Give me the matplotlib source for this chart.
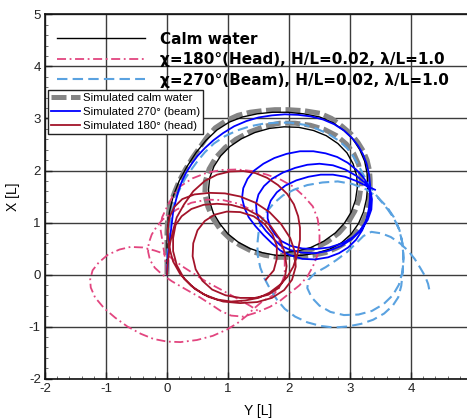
import matplotlib
matplotlib.use("Agg")
import matplotlib.pyplot as plt
from matplotlib.lines import Line2D
from matplotlib.ticker import MultipleLocator

# ---------------- data: trajectories as (Y [L], X [L]) ----------------
calm_y = [0, 0, 0, 0.01, 0.04, 0.1, 0.2, 0.33, 0.48, 0.64, 0.82, 1.02, 1.24, 1.48, 1.73, 1.98,
          2.24, 2.5, 2.72, 2.9, 3.05, 3.16, 3.24, 3.28, 3.29, 3.27, 3.22, 3.14, 3.02, 2.86, 2.67,
          2.45, 2.22, 2.0, 1.78, 1.56, 1.36, 1.17, 1.0, 0.87, 0.76, 0.7, 0.68, 0.7, 0.77, 0.88,
          1.03, 1.22, 1.44, 1.68, 1.92, 2.16, 2.4, 2.61, 2.8, 2.95, 3.05, 3.11, 3.12, 3.09, 3.02,
          2.91, 2.76, 2.57, 2.36, 2.13, 1.9]
calm_x = [0, 0.3, 0.6, 0.9, 1.2, 1.5, 1.8, 2.08, 2.35, 2.58, 2.78, 2.93, 3.03, 3.09, 3.12, 3.12,
          3.09, 3.03, 2.92, 2.77, 2.6, 2.4, 2.18, 1.95, 1.7, 1.45, 1.2, 0.98, 0.78, 0.61, 0.49,
          0.41, 0.37, 0.36, 0.37, 0.42, 0.5, 0.62, 0.78, 0.97, 1.18, 1.4, 1.63, 1.86, 2.08, 2.28,
          2.46, 2.61, 2.73, 2.81, 2.84, 2.83, 2.77, 2.67, 2.52, 2.34, 2.13, 1.9, 1.67, 1.43, 1.2,
          0.99, 0.8, 0.64, 0.52, 0.45, 0.42]

sim_calm_y = [0, 0, 0, 0, 0.01, 0.05, 0.13, 0.2, 0.3, 0.42, 0.54, 0.66, 0.79, 0.97, 1.16, 1.36,
              1.56, 1.77, 1.98, 2.25, 2.51, 2.7, 2.87, 3.02, 3.13, 3.22, 3.28, 3.32, 3.33, 3.33,
              3.31, 3.27, 3.2, 3.1, 2.97, 2.8, 2.6, 2.4, 2.2, 2.0, 1.82, 1.6, 1.4, 1.2, 1.02, 0.87,
              0.75, 0.67, 0.62, 0.63, 0.69, 0.8, 0.95, 1.13, 1.35, 1.6, 1.85, 2.1, 2.35, 2.58,
              2.78, 2.94, 3.06, 3.14, 3.18, 3.18, 3.15, 3.08, 2.97, 2.82, 2.63, 2.42, 2.2, 1.98,
              1.8]
sim_calm_x = [0, 0.25, 0.5, 0.8, 1.06, 1.35, 1.6, 1.8, 2.02, 2.25, 2.45, 2.65, 2.82, 2.96, 3.06,
              3.12, 3.15, 3.17, 3.17, 3.15, 3.1, 3.0, 2.85, 2.7, 2.54, 2.37, 2.2, 2.0, 1.83, 1.6,
              1.38, 1.17, 0.98, 0.8, 0.64, 0.52, 0.42, 0.37, 0.34, 0.33, 0.33, 0.37, 0.44, 0.56,
              0.7, 0.87, 1.08, 1.3, 1.55, 1.8, 2.03, 2.25, 2.44, 2.6, 2.74, 2.85, 2.91, 2.91, 2.87,
              2.79, 2.67, 2.51, 2.33, 2.12, 1.9, 1.68, 1.45, 1.22, 1.0, 0.8, 0.63, 0.5, 0.42, 0.38,
              0.37]

head_y = [0, -0.02, -0.05, -0.08, -0.11, -0.08, 0.0, 0.09, 0.21, 0.42, 0.66, 0.9, 1.15, 1.4,
          1.64, 1.87, 2.07, 2.24, 2.39, 2.47, 2.5, 2.5, 2.46, 2.39, 2.3, 2.17, 2.02, 1.86, 1.69,
          1.47, 1.25, 1.05, 0.88, 0.7, 0.54, 0.3, 0.08, -0.08, -0.2, -0.28, -0.31, -0.3, -0.25,
          -0.17, -0.07, 0.16, 0.4, 0.66, 0.92, 1.18, 1.42, 1.62, 1.77, 1.88, 1.93, 1.93, 1.86,
          1.74, 1.56, 1.42, 1.3, 1.15, 0.98, 0.75, 0.49, 0.22, 0.0, -0.22, -0.43, -0.65, -0.85,
          -1.03, -1.18, -1.25, -1.26, -1.22, -1.12, -0.97, -0.78, -0.6, -0.4, -0.2, 0.0, 0.26,
          0.46, 0.66, 0.9, 1.13, 1.36, 1.52]
head_x = [0, 0.22, 0.45, 0.68, 0.9, 1.1, 1.3, 1.5, 1.69, 1.85, 1.96, 2.01, 2.02, 1.99, 1.92,
          1.82, 1.69, 1.51, 1.31, 1.07, 0.81, 0.58, 0.35, 0.15, -0.04, -0.21, -0.35, -0.5, -0.62,
          -0.73, -0.81, -0.79, -0.7, -0.56, -0.44, -0.28, -0.13, 0.0, 0.13, 0.28, 0.44, 0.6, 0.77,
          0.92, 1.06, 1.25, 1.38, 1.44, 1.43, 1.36, 1.22, 1.03, 0.8, 0.54, 0.27, 0.0, -0.22,
          -0.4, -0.52, -0.66, -0.8, -0.94, -1.06, -1.18, -1.26, -1.3, -1.29, -1.24, -1.14, -1.0,
          -0.83, -0.65, -0.44, -0.25, -0.1, 0.08, 0.23, 0.38, 0.48, 0.53, 0.52, 0.46, 0.38, 0.15,
          0.0, -0.15, -0.3, -0.45, -0.6, -0.72]

beam_y = [0, 0, 0.01, 0.03, 0.05, 0.08, 0.13, 0.2, 0.3, 0.4, 0.5, 0.62, 0.77, 0.95, 1.15, 1.36,
          1.58, 1.8, 2.02, 2.25, 2.46, 2.65, 2.82, 2.95, 3.05, 3.13, 3.2, 3.28, 3.38, 3.5, 3.62,
          3.72, 3.8, 3.85, 3.87, 3.87, 3.86, 3.84, 3.79, 3.7, 3.56, 3.38, 3.18, 2.96, 2.74, 2.52,
          2.3, 2.1, 1.93, 1.8, 1.69, 1.6, 1.53, 1.49, 1.48, 1.5, 1.55, 1.63, 1.75, 1.9, 2.08, 2.3,
          2.55, 2.8, 3.04, 3.26, 3.45, 3.6, 3.72, 3.81, 3.86, 3.88, 3.86, 3.8, 3.7, 3.55, 3.36,
          3.14, 2.9, 2.68, 2.5, 2.37, 2.3, 2.32, 2.43, 2.6, 2.78, 2.95, 3.1, 3.22, 3.35, 3.52,
          3.67, 3.82, 3.95, 4.06, 4.15, 4.23, 4.28, 4.31]
beam_x = [0, 0.25, 0.5, 0.75, 1.0, 1.2, 1.42, 1.62, 1.85, 2.02, 2.18, 2.35, 2.52, 2.66, 2.77,
          2.85, 2.9, 2.92, 2.92, 2.88, 2.8, 2.7, 2.57, 2.43, 2.28, 2.12, 1.96, 1.8, 1.6, 1.42, 1.25,
          1.08, 0.88, 0.66, 0.44, 0.2, 0.0, -0.22, -0.44, -0.6, -0.75, -0.87, -0.95, -1.0, -1.02,
          -0.99, -0.92, -0.81, -0.66, -0.48, -0.28, -0.08, 0.13, 0.35, 0.57, 0.8, 1.02, 1.2, 1.37,
          1.52, 1.63, 1.72, 1.77, 1.79, 1.74, 1.64, 1.49, 1.31, 1.1, 0.86, 0.6, 0.32, 0.05, -0.2,
          -0.4, -0.57, -0.7, -0.77, -0.78, -0.72, -0.6, -0.44, -0.26, -0.1, 0.03, 0.14, 0.28, 0.43,
          0.6, 0.74, 0.82, 0.79, 0.72, 0.6, 0.46, 0.3, 0.13, -0.03, -0.18, -0.35]

sim_beam_y = [0, 0.01, 0.02, 0.04, 0.06, 0.08, 0.1, 0.14, 0.18, 0.24, 0.31, 0.4, 0.5, 0.62, 0.76,
              0.92, 1.1, 1.3, 1.5, 1.72, 1.93, 2.15, 2.36, 2.56, 2.74, 2.9, 3.03, 3.13, 3.21, 3.27,
              3.31, 3.33, 3.33, 3.31, 3.27, 3.2, 3.1, 2.97, 2.82, 2.64, 2.43, 2.22, 2.02, 1.86, 1.72,
              1.58, 1.45, 1.34, 1.27, 1.23, 1.25, 1.32, 1.43, 1.58, 1.76, 1.96, 2.18, 2.4, 2.6, 2.79,
              2.96, 3.1, 3.21, 3.29, 3.33, 3.34, 3.32, 3.26, 3.16, 3.03, 2.86, 2.66, 2.44, 2.22, 2.02,
              1.86, 1.75,
              1.62, 1.52, 1.47, 1.46, 1.5, 1.59, 1.72, 1.9, 2.1, 2.3, 2.5, 2.72, 2.92, 3.1, 3.24,
              3.33, 3.36, 3.35, 3.29, 3.19, 3.05, 2.87, 2.66, 2.44, 2.22, 2.03, 1.88, 1.77,
              1.69, 1.65, 1.65, 1.7, 1.8, 1.94, 2.12, 2.32, 2.52, 2.72, 2.92, 3.1, 3.26, 3.41]
sim_beam_x = [0, 0.2, 0.4, 0.6, 0.8, 1.0, 1.2, 1.4, 1.58, 1.78, 1.95, 2.12, 2.28, 2.43, 2.58,
              2.72, 2.85, 2.95, 3.02, 3.06, 3.08, 3.07, 3.04, 2.98, 2.89, 2.77, 2.63, 2.48, 2.32,
              2.14, 1.94, 1.72, 1.5, 1.27, 1.05, 0.85, 0.67, 0.52, 0.41, 0.33, 0.29, 0.3, 0.37, 0.46,
              0.6, 0.76, 0.93, 1.1, 1.28, 1.47, 1.66, 1.84, 2.0, 2.13, 2.24, 2.32, 2.37, 2.37, 2.33,
              2.26, 2.15, 2.02, 1.88, 1.74, 1.6, 1.42, 1.22, 1.02, 0.84, 0.68, 0.55, 0.46, 0.41,
              0.42, 0.47, 0.56, 0.68,
              0.84, 1.0, 1.18, 1.36, 1.54, 1.7, 1.84, 1.96, 2.05, 2.11, 2.13, 2.1, 2.02, 1.9, 1.77,
              1.62, 1.45, 1.25, 1.05, 0.87, 0.72, 0.6, 0.52, 0.49, 0.5, 0.55, 0.64, 0.77,
              0.92, 1.08, 1.25, 1.42, 1.58, 1.71, 1.81, 1.88, 1.92, 1.92, 1.88, 1.8, 1.71, 1.63]

sim_head_y = [0, 0.01, 0.03, 0.05, 0.1, 0.16, 0.28, 0.43, 0.62, 0.82, 1.03, 1.25, 1.45, 1.64,
              1.82, 1.97, 2.08, 2.15, 2.18, 2.18, 2.14, 2.07, 1.97, 1.85, 1.68, 1.5, 1.28, 1.05,
              0.82, 0.6, 0.4, 0.22, 0.1, 0.03,
              0.01, 0.04, 0.12, 0.25, 0.45, 0.7, 0.95, 1.2, 1.45, 1.68, 1.87, 2.02, 2.1, 2.11, 2.05,
              1.92, 1.72, 1.48, 1.2, 0.92, 0.68, 0.46, 0.28, 0.16, 0.1, 0.1,
              0.14, 0.24, 0.4, 0.6, 0.82, 1.05, 1.3, 1.52, 1.7, 1.85, 1.93, 1.96, 1.93, 1.83, 1.66,
              1.44, 1.2, 0.96, 0.74, 0.58, 0.47, 0.42, 0.43,
              0.5, 0.62, 0.78, 0.98, 1.2, 1.42, 1.6, 1.73, 1.8, 1.8, 1.75, 1.62]
sim_head_x = [0, 0.2, 0.4, 0.6, 0.85, 1.1, 1.35, 1.6, 1.8, 1.92, 1.98, 1.99, 1.95, 1.86, 1.72,
              1.55, 1.35, 1.12, 0.9, 0.67, 0.4, 0.15, -0.05, -0.2, -0.35, -0.45, -0.5, -0.52,
              -0.48, -0.38, -0.22, 0.0, 0.25, 0.55,
              0.85, 1.1, 1.3, 1.45, 1.54, 1.57, 1.56, 1.5, 1.38, 1.2, 0.97, 0.7, 0.42, 0.15, -0.1,
              -0.3, -0.45, -0.53, -0.55, -0.52, -0.43, -0.28, -0.08, 0.18, 0.45, 0.7,
              0.95, 1.12, 1.26, 1.34, 1.36, 1.34, 1.26, 1.12, 0.93, 0.68, 0.42, 0.16, -0.08, -0.26,
              -0.39, -0.45, -0.45, -0.4, -0.29, -0.12, 0.1, 0.35, 0.6,
              0.85, 1.03, 1.15, 1.21, 1.2, 1.12, 0.97, 0.77, 0.55, 0.3, 0.08, -0.1]

exp_labels = ['Calm water', 'χ=180°(Head), H/L=0.02, λ/L=1.0', 'χ=270°(Beam), H/L=0.02, λ/L=1.0']
sim_labels = ['Simulated calm water', 'Simulated 270° (beam)', 'Simulated 180° (head)']
tick_vals = [-2, -1, 0, 1, 2, 3, 4, 5]
x_tick_labels = ['-2', '-1', '0', '1', '2', '3', '4', '']
y_tick_labels = ['-2', '-1', '0', '1', '2', '3', '4', '5']

# ---------------- styles ----------------
C_BLACK = '#000000'
C_PINK = '#e2457f'
C_LBLUE = '#5aa2e0'
C_GRAY = '#858585'
C_BLUE = '#0000ff'
C_RED = '#a3142a'
DASH_PINK = (5, 2, 1, 2)
DASH_LBLUE = (5, 2.5)
DASH_GRAY = (3.0, 0.9)

plt.rcParams['font.family'] = ['Liberation Sans', 'DejaVu Sans']

W, H = 467, 419
fig = plt.figure(figsize=(W / 100, H / 100), dpi=100)
ax = fig.add_axes([45 / W, 40.5 / H, 427 / W, 364 / H])

ax.plot(sim_calm_y, sim_calm_x, color=C_GRAY, lw=3.6, dashes=DASH_GRAY, zorder=3)
ax.plot(calm_y, calm_x, color=C_BLACK, lw=1.0, zorder=4)
ax.plot(head_y, head_x, color=C_PINK, lw=1.3, dashes=DASH_PINK, zorder=4)
ax.plot(beam_y, beam_x, color=C_LBLUE, lw=1.5, dashes=DASH_LBLUE, zorder=4)
ax.plot(sim_beam_y, sim_beam_x, color=C_BLUE, lw=1.3, zorder=5)
ax.plot(sim_head_y, sim_head_x, color=C_RED, lw=1.3, zorder=5)

ax.set_xlim(-2, 5)
ax.set_ylim(-2, 5)
ax.set_xticks(tick_vals)
ax.set_xticklabels(x_tick_labels)
ax.set_yticks(tick_vals)
ax.set_yticklabels(y_tick_labels)
ax.xaxis.set_minor_locator(MultipleLocator(0.2))
ax.yaxis.set_minor_locator(MultipleLocator(0.2))
ax.tick_params(which='major', direction='in', length=5, width=1.0, labelsize=9.5,
               colors='#222222', pad=3)
ax.tick_params(which='minor', direction='in', length=2.5, width=0.6, colors='#555555')
ax.grid(True, which='major', color='#3c3c3c', lw=1.0, zorder=1)
ax.set_axisbelow(True)
for s in ax.spines.values():
    s.set_color('#111111')
    s.set_linewidth(1.2)

ax.set_xlabel('Y [L]', fontsize=10, labelpad=7)
ax.set_ylabel('X [L]', fontsize=10, labelpad=6)

h1 = [Line2D([], [], color=C_BLACK, lw=1.0),
      Line2D([], [], color=C_PINK, lw=1.3, dashes=DASH_PINK),
      Line2D([], [], color=C_LBLUE, lw=1.5, dashes=DASH_LBLUE)]
leg1 = ax.legend(h1, exp_labels, loc='upper left', bbox_to_anchor=(57 / W, 1 - 31.5 / H),
                 bbox_transform=fig.transFigure, frameon=False, borderpad=0, borderaxespad=0,
                 handlelength=5.75, handletextpad=0.98, labelspacing=0.36,
                 prop={'family': 'DejaVu Sans', 'weight': 'bold', 'size': 11})
ax.add_artist(leg1)

h2 = [Line2D([], [], color=C_GRAY, lw=3.6, dashes=DASH_GRAY),
      Line2D([], [], color=C_BLUE, lw=1.3),
      Line2D([], [], color=C_RED, lw=1.3)]
leg2 = ax.legend(h2, sim_labels, loc='upper left', bbox_to_anchor=(48 / W, 1 - 90 / H),
                 bbox_transform=fig.transFigure, frameon=True, fancybox=False,
                 borderpad=0.25, borderaxespad=0, handlelength=2.6, handletextpad=0.2,
                 labelspacing=0.37, prop={'size': 8.2})
leg2.get_frame().set_edgecolor('#222222')
leg2.get_frame().set_linewidth(1.0)
leg2.get_frame().set_alpha(1.0)
leg2.set_zorder(10)

fig.savefig('out.png', dpi=100)
